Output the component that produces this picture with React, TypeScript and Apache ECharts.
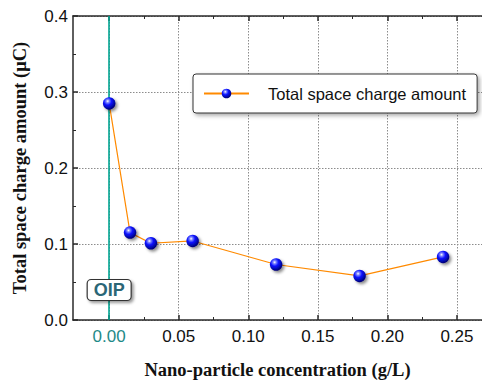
import React, { useEffect, useRef } from "react";
import * as echarts from "echarts";

// Nano-particle concentration (g/L) and measured total space charge (µC)
const concentrations = [0, 0.015, 0.03, 0.06, 0.12, 0.18, 0.24];
const chargeAmounts = [0.285, 0.115, 0.101, 0.104, 0.073, 0.058, 0.083];

const xMajorTicks = [0, 0.05, 0.1, 0.15, 0.2, 0.25];
const xMinorTicks = [0.025, 0.075, 0.125, 0.175, 0.225];

const seriesName = "Total space charge amount";
const xTitle = "Nano-particle concentration (g/L)";
const yTitle = "Total space charge amount (μC)";
const markerLabel = "OIP";

const X_MIN = -0.026;
const X_MAX = 0.268;
const TEAL = "#00a593";
const AXIS = "#2a2a2a";
const SANS = "'Liberation Sans', Arial, sans-serif";
const SERIF = "'Liberation Serif', 'Times New Roman', serif";

const ball = new echarts.graphic.RadialGradient(0.38, 0.32, 0.7, [
  { offset: 0, color: "#ffffff" },
  { offset: 0.18, color: "#7f86ff" },
  { offset: 0.45, color: "#0a12ff" },
  { offset: 1, color: "#00006e" },
]);

export default function App() {
  const ref = useRef<HTMLDivElement>(null);

  useEffect(() => {
    if (!ref.current) return;
    const chart = echarts.init(ref.current, undefined, { renderer: "svg" });

    const baseX = {
      type: "value" as const,
      min: X_MIN,
      max: X_MAX,
      gridIndex: 0,
    };

    chart.setOption({
      animation: false,
      backgroundColor: "#ffffff",
      grid: {
        left: 73,
        top: 16,
        right: 0,
        bottom: 63,
        containLabel: false,
        outerBoundsMode: "none",
      },
      legend: {
        left: 193,
        top: 74,
        orient: "horizontal",
        data: [seriesName],
        itemWidth: 45,
        itemHeight: 12,
        padding: [11, 11, 11, 10],
        backgroundColor: "#ffffff",
        borderColor: "#333333",
        borderWidth: 1,
        borderRadius: 3,
        shadowBlur: 4,
        shadowOffsetX: 2,
        shadowOffsetY: 2,
        shadowColor: "rgba(0,0,0,0.35)",
        textStyle: {
          fontFamily: SANS,
          fontSize: 16.5,
          color: "#111111",
          padding: [0, 0, 0, 14],
        },
      },
      xAxis: [
        {
          ...baseX,
          position: "bottom",
          name: xTitle,
          nameLocation: "middle",
          nameGap: 40,
          nameTextStyle: {
            fontFamily: SERIF,
            fontWeight: "bold",
            fontSize: 18.5,
            color: "#111111",
          },
          axisLine: { show: true, onZero: false, lineStyle: { color: AXIS, width: 1.5 } },
          axisTick: {
            show: true,
            inside: true,
            length: 5,
            customValues: xMajorTicks,
            lineStyle: { color: AXIS, width: 1.5 },
          },
          axisLabel: {
            customValues: xMajorTicks,
            margin: 8,
            fontFamily: SANS,
            fontSize: 17,
            color: (v: number) => (Math.abs(v) < 1e-9 ? "#1f8a88" : "#111111"),
            formatter: (v: number) => v.toFixed(2),
          },
          splitLine: {
            show: true,
            lineStyle: { color: "#8c8c8c", width: 1, type: [1.5, 1.5] },
          },
        },
        {
          ...baseX,
          position: "bottom",
          axisLine: { show: false, onZero: false },
          axisTick: {
            show: true,
            inside: true,
            length: 3,
            customValues: xMinorTicks,
            lineStyle: { color: AXIS, width: 1 },
          },
          axisLabel: { show: false },
          splitLine: { show: false },
        },
        {
          ...baseX,
          position: "top",
          axisLine: { show: true, onZero: false, lineStyle: { color: AXIS, width: 1.5 } },
          axisTick: {
            show: true,
            inside: true,
            length: 5,
            customValues: xMajorTicks,
            lineStyle: { color: AXIS, width: 1.5 },
          },
          axisLabel: { show: false },
          splitLine: { show: false },
        },
        {
          ...baseX,
          position: "top",
          axisLine: { show: false, onZero: false },
          axisTick: {
            show: true,
            inside: true,
            length: 3,
            customValues: xMinorTicks,
            lineStyle: { color: AXIS, width: 1 },
          },
          axisLabel: { show: false },
          splitLine: { show: false },
        },
      ],
      yAxis: {
        type: "value",
        min: 0,
        max: 0.4,
        interval: 0.1,
        name: yTitle,
        nameLocation: "middle",
        nameGap: 44,
        nameTextStyle: {
          fontFamily: SERIF,
          fontWeight: "bold",
          fontSize: 18.5,
          color: "#111111",
        },
        axisLine: { show: true, onZero: false, lineStyle: { color: AXIS, width: 1.5 } },
        axisTick: { show: true, inside: true, length: 5, lineStyle: { color: AXIS, width: 1.5 } },
        minorTick: { show: true, splitNumber: 2, length: 3, lineStyle: { color: AXIS, width: 1 } },
        axisLabel: {
          margin: 5,
          fontFamily: SANS,
          fontSize: 17,
          color: "#111111",
          formatter: (v: number) => v.toFixed(1),
        },
        splitLine: {
          show: true,
          lineStyle: { color: "#8c8c8c", width: 1, type: [1.5, 1.5] },
        },
      },
      series: [
        {
          name: seriesName,
          type: "line",
          xAxisIndex: 0,
          yAxisIndex: 0,
          data: concentrations.map((c, i) => [c, chargeAmounts[i]]),
          symbol: "circle",
          symbolSize: 12.5,
          lineStyle: { color: "#ff8a00", width: 1.2 },
          itemStyle: {
            color: ball,
            borderWidth: 0,
            shadowBlur: 3,
            shadowOffsetX: 2,
            shadowOffsetY: 2,
            shadowColor: "rgba(0,0,0,0.45)",
          },
          z: 5,
          markLine: {
            silent: true,
            symbol: "none",
            label: { show: false },
            lineStyle: { color: TEAL, width: 1.6, type: "solid", opacity: 1 },
            emphasis: { disabled: true },
            data: [{ xAxis: 0 }],
          },
        },
      ],
    });

    // "OIP" tag sitting on the zero-concentration line
    const cx = chart.convertToPixel({ xAxisIndex: 0 }, 0) as number;
    const cy = chart.convertToPixel({ yAxisIndex: 0 }, 0.0395) as number;
    chart.setOption({
      graphic: [
        {
          type: "rect",
          z: 100,
          x: cx,
          y: cy,
          shape: { x: -22, y: -10.5, width: 44, height: 21, r: 4 },
          style: {
            fill: "#ffffff",
            stroke: "#333333",
            lineWidth: 1.2,
            shadowBlur: 3,
            shadowOffsetX: 2,
            shadowOffsetY: 2,
            shadowColor: "rgba(0,0,0,0.4)",
          },
        },
        {
          type: "text",
          z: 101,
          x: cx,
          y: cy + 0.5,
          style: {
            text: markerLabel,
            fontFamily: SANS,
            fontWeight: "bold",
            fontSize: 18,
            fill: "#2b6676",
            align: "center",
            verticalAlign: "middle",
          },
        },
      ],
    });

    return () => chart.dispose();
  }, []);

  return (
    <div
      ref={ref}
      style={{ position: "fixed", left: 0, top: 0, width: 482, height: 383 }}
    />
  );
}
